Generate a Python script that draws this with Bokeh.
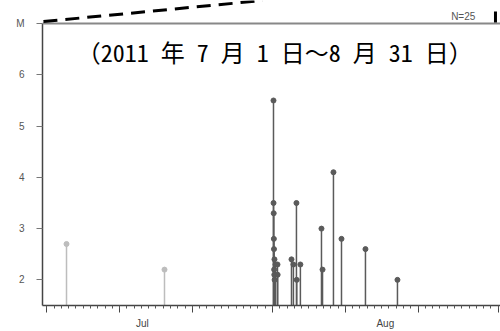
import pandas as pd
from bokeh.plotting import figure
from bokeh.models import FixedTicker, Label, Span, Arrow, ColumnDataSource, LinearAxis
from bokeh.embed import file_html
from bokeh.resources import INLINE

# ---- data ----
event_times = [
    "2011-07-03 17:00", "2011-07-17 04:00",
    "2011-08-01 03:20", "2011-08-01 03:30", "2011-08-01 04:00", "2011-08-01 04:30",
    "2011-08-01 05:00", "2011-08-01 05:30", "2011-08-01 06:00", "2011-08-01 06:30",
    "2011-08-01 07:00", "2011-08-01 10:00", "2011-08-01 16:30", "2011-08-01 17:00",
    "2011-08-03 14:40", "2011-08-03 21:00", "2011-08-04 07:00", "2011-08-04 08:00",
    "2011-08-04 20:00", "2011-08-07 17:30", "2011-08-07 21:00", "2011-08-09 09:00",
    "2011-08-10 11:30", "2011-08-13 18:30", "2011-08-18 04:00",
]
magnitudes = [
    2.7, 2.2,
    5.5, 3.5, 3.3, 2.8,
    2.6, 2.2, 2.1, 2.4,
    2.0, 2.3, 2.3, 2.1,
    2.4, 2.3, 3.5, 2.0,
    2.3, 3.0, 2.2, 4.1,
    2.8, 2.6, 2.0,
]
month_labels = ["Jul", "Aug"]
month_label_dates = ["2011-07-14 03:00", "2011-08-16 12:00"]
major_tick_dates = ["2011-07-01", "2011-07-11", "2011-07-21", "2011-08-01",
                    "2011-08-11", "2011-08-21", "2011-09-01"]
y_ticks = [2, 3, 4, 5, 6, 7]
y_tick_overrides = {7: "M"}
title_text = "（2011 年 7 月 1 日～8 月 31 日）"
count_text = "N=25"

t0 = pd.Timestamp("2011-07-01")


def day(s):
    return (pd.Timestamp(s) - t0) / pd.Timedelta(days=1)


xs = [day(t) for t in event_times]
aug1 = day("2011-08-01")
colors = ["#bdbdbd" if x < aug1 else "#5a5a5a" for x in xs]

x_start, x_end = -0.59, 62.32
y_base, y_top, y_end = 1.5, 7.0, 7.451

src = ColumnDataSource(dict(x=xs, m=magnitudes, base=[y_base] * len(xs), c=colors))

p = figure(width=500, height=331, x_range=(x_start, x_end), y_range=(y_base, y_end),
           output_backend="svg", toolbar_location=None,
           min_border_left=42, min_border_right=0, min_border_top=0, min_border_bottom=26)
p.outline_line_color = None
p.xgrid.visible = False
p.ygrid.visible = False
p.background_fill_color = "white"
p.border_fill_color = "white"

# x axis (ticks only)
xa = p.xaxis[0]
maj = [day(d) for d in major_tick_dates]
xa.ticker = FixedTicker(ticks=maj, minor_ticks=list(range(0, 63)))
xa.major_label_overrides = {m: "" for m in maj}
xa.major_label_text_font_size = "1px"
xa.major_label_standoff = 0
xa.axis_line_color = "#444444"
xa.axis_line_width = 1.5
xa.major_tick_line_color = "#444444"
xa.major_tick_out = 7
xa.major_tick_in = 0
xa.minor_tick_line_color = "#555555"
xa.minor_tick_out = 3
xa.minor_tick_in = 0

# month labels axis
mx = [day(d) for d in month_label_dates]
ma = LinearAxis(ticker=FixedTicker(ticks=mx, minor_ticks=[]),
                major_label_overrides={v: l for v, l in zip(mx, month_labels)},
                axis_line_color=None, major_tick_line_color=None,
                minor_tick_line_color=None, major_tick_out=0, major_tick_in=0,
                major_label_standoff=5, major_label_text_font="Liberation Sans",
                major_label_text_font_size="10px", major_label_text_color="#444444")
p.add_layout(ma, "below")

# y axis
ya = p.yaxis[0]
ya.ticker = FixedTicker(ticks=y_ticks)
ya.bounds = (y_base, y_top)
ya.major_label_overrides = y_tick_overrides
ya.major_label_text_font = "Liberation Sans"
ya.major_label_text_font_size = "10px"
ya.major_label_text_color = "#555555"
ya.axis_line_color = "#444444"
ya.axis_line_width = 1.5
ya.major_tick_line_color = "#777777"
ya.major_tick_out = 6
ya.major_tick_in = 0
ya.minor_tick_line_color = None
ya.major_label_standoff = 12

# top frame line
p.add_layout(Span(location=y_top, dimension="width", line_color="#888888", line_width=2))

# stems
p.segment(x0="x", y0="base", x1="x", y1="m", color="c", line_width=1.5, source=src)
p.scatter(x="x", y="m", size=5, color="c", source=src)

# title
p.add_layout(Label(x=31.3, y=6.45, text=title_text, text_align="center",
                   text_baseline="middle",
                   text_font="'Noto Sans Mono CJK JP', 'Noto Sans CJK JP'",
                   text_font_size="24px", text_color="black"))

# N=25
p.add_layout(Label(x=57.2, y=7.13, text=count_text, text_align="center",
                   text_baseline="middle", text_font="Liberation Sans",
                   text_font_size="10px", text_color="#555555"))

# callout dashed line and mark
p.add_layout(Arrow(end=None, x_start=-0.46, y_start=7.04, x_end=29.63, y_end=7.451,
                   line_color="black", line_width=3, line_dash="14 8"))
p.add_layout(Arrow(end=None, x_start=61.63, y_start=7.02, x_end=61.63, y_end=7.235,
                   line_color="black", line_width=3))

open("out.html", "w").write(file_html(p, INLINE))
